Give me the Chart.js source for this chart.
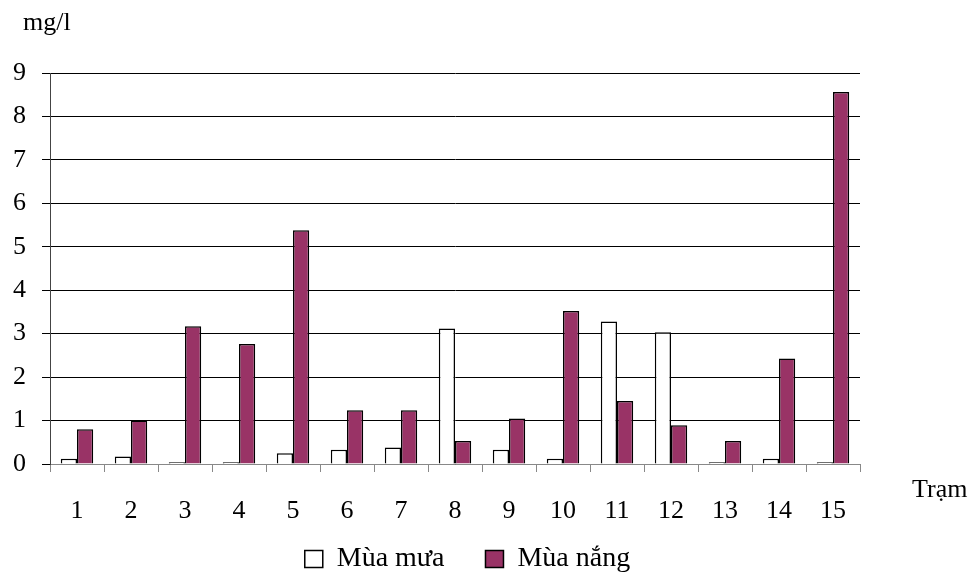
<!DOCTYPE html>
<html>
<head>
<meta charset="utf-8">
<script src="https://cdn.jsdelivr.net/npm/chart.js@4.4.0/dist/chart.umd.min.js"></script>
<style>
  html, body { margin: 0; padding: 0; background: #fff; }
  #wrap { width: 977px; height: 575px; }
</style>
</head>
<body>
<div id="wrap"><canvas id="c" width="977" height="575"></canvas></div>
<script>
// Stations along the survey
const stations = ['1','2','3','4','5','6','7','8','9','10','11','12','13','14','15'];
// Rainy season concentration (mg/l)
const muaMua = [0.12, 0.17, 0.04, 0.04, 0.25, 0.33, 0.38, 3.12, 0.33, 0.12, 3.28, 3.03, 0.04, 0.12, 0.04];
// Dry season concentration (mg/l)
const muaNang = [0.80, 1.00, 3.17, 2.76, 5.38, 1.24, 1.24, 0.53, 1.05, 3.52, 1.45, 0.89, 0.53, 2.43, 8.56];
const yTicks = [0, 1, 2, 3, 4, 5, 6, 7, 8, 9];

const FONT = 'Liberation Serif, "Times New Roman", serif';
const FS = 26;
const LEGEND_FS = 28;

// Axis unit and axis name drawn as free text
const extraText = {
  id: 'extraText',
  afterDraw(chart) {
    const ctx = chart.ctx;
    ctx.save();
    ctx.fillStyle = '#000';
    ctx.font = FS + 'px ' + FONT;
    ctx.textBaseline = 'alphabetic';
    ctx.textAlign = 'left';
    ctx.fillText('mg/l', 23, 30);
    ctx.fillText('Trạm', 912, 497);
    ctx.restore();
  }
};

// Shift the legend left and down, and let the x labels overlap the legend band
const legendShift = {
  id: 'legendShift',
  afterLayout(chart) {
    const lg = chart.legend;
    if (lg) {
      lg.left -= 21; lg.right -= 21;
      lg.top += 8; lg.bottom += 8;
    }
    const x = chart.scales.x;
    if (x) { x.bottom += 60; }
  }
};

new Chart(document.getElementById('c'), {
  type: 'bar',
  data: {
    labels: stations,
    datasets: [
      { label: 'Mùa mưa', data: muaMua, backgroundColor: '#ffffff', borderColor: '#000', borderWidth: 1.5 },
      { label: 'Mùa nắng', data: muaNang, backgroundColor: '#993366', borderColor: '#000', borderWidth: 1.5 }
    ]
  },
  options: {
    responsive: false,
    animation: false,
    layout: { padding: { left: 0, top: 73, right: 0, bottom: 0 } },
    datasets: { bar: { categoryPercentage: 0.6, barPercentage: 1.0 } },
    plugins: {
      legend: {
        position: 'bottom',
        labels: {
          font: { family: FONT, size: LEGEND_FS },
          color: '#000',
          boxWidth: 18,
          boxHeight: 17,
          padding: 41
        }
      },
      tooltip: { enabled: false }
    },
    scales: {
      x: {
        offset: true,
        grid: { display: true, offset: true, drawOnChartArea: false, drawTicks: true, tickLength: 8, color: '#888' },
        border: { display: true, color: '#888', width: 1 },
        ticks: { font: { family: FONT, size: FS }, color: '#000', padding: 24, maxRotation: 0 },
        afterFit(s) { s.height = 32; }
      },
      y: {
        min: 0, max: 9,
        afterBuildTicks(s) { s.ticks = yTicks.map(v => ({ value: v })); },
        grid: { color: '#000', lineWidth: 1, tickLength: 8 },
        border: { display: true, color: '#444', width: 1 },
        ticks: { font: { family: FONT, size: FS }, color: '#000', padding: 16 },
        afterFit(s) { s.width = 50; }
      },
      yr: {
        position: 'right',
        display: true,
        grid: { display: false, drawTicks: false },
        border: { display: false },
        ticks: { display: false },
        afterFit(s) { s.width = 117; }
      }
    }
  },
  plugins: [extraText, legendShift]
});
</script>
</body>
</html>
